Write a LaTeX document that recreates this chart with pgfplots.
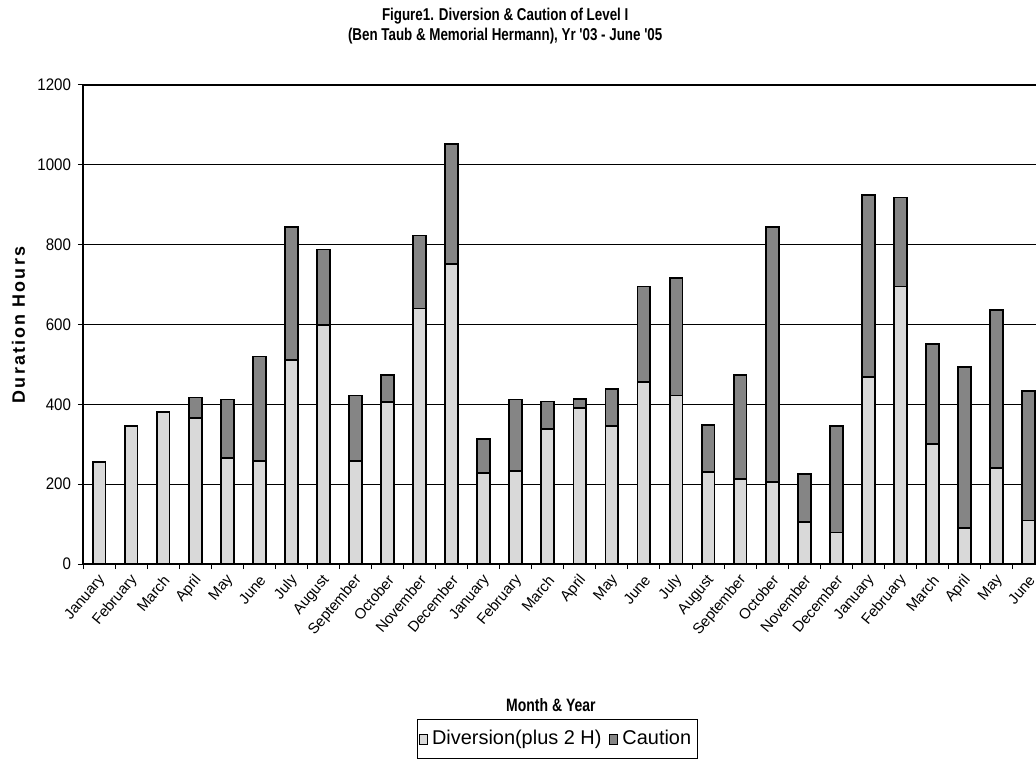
\documentclass[border=0pt]{standalone}
\usepackage{fontspec}
\setmainfont{Liberation Sans}
\newfontfamily\titlefont[FakeStretch=0.78]{Liberation Sans}
\newfontfamily\tickfont[FakeStretch=0.9]{Liberation Sans}
\newfontfamily\labfont[LetterSpace=12]{Liberation Sans}
\usepackage{pgfplots}
\pgfplotsset{compat=1.18}
\usepackage{pgfplotstable}

\pgfplotstableread{
idx div caut
0 255 0
1 345 0
2 381 0
3 365 52
4 265 147
5 259 261
6 512 332
7 598 190
8 259 163
9 405 69
10 640 183
11 751 301
12 228 85
13 232 180
14 338 69
15 391 23
16 346 93
17 456 239
18 422 294
19 230 119
20 213 261
21 205 640
22 105 120
23 79 266
24 469 455
25 695 223
26 301 251
27 90 404
28 240 396
29 109 325
}\datatable

\begin{document}
\begin{tikzpicture}
\useasboundingbox (0,0) rectangle (518bp,381.5bp);
\begin{axis}[
  at={(41.5bp,99.5bp)}, anchor=south west,
  scale only axis, width=476.5bp, height=239.5bp,
  ybar stacked, bar width=0.4,
  xmin=-0.5, xmax=29.23, ymin=0, ymax=1200,
  ytick={0,200,...,1200},
  xtick={0,...,29},
  xticklabels={January,February,March,April,May,June,July,August,September,October,November,December,
               January,February,March,April,May,June,July,August,September,October,November,December,
               January,February,March,April,May,June},
  axis x line*=bottom, axis y line*=left,
  axis line style={-, line width=0.8bp},
  ymajorgrids, grid style={black, line width=0.6bp},
  tick align=outside, major tick length=2.5bp,
  major x tick style={draw=none},
  minor xtick={-0.5,0.5,...,28.5},
  minor x tick style={black, line width=0.5bp},
  minor tick length=2.5bp,
  ytick style={black, line width=0.5bp},
  /pgf/number format/assume math mode=true,
  /pgf/number format/1000 sep={},
  yticklabel style={font=\tickfont\fontsize{8.4}{10}\selectfont},
  xticklabel style={rotate=50, anchor=east, inner sep=1bp, yshift=-4bp, xshift=-1bp,
                    font=\fontsize{7.5}{9}\selectfont},
  title={Figure1. Diversion \& Caution of Level I\\(Ben Taub \& Memorial Hermann), Yr '03 - June '05},
  title style={at={(axis description cs:0.443,1.123)}, anchor=center, align=center, yshift=-6pt,
               font=\titlefont\bfseries\fontsize{8.6}{10.5}\selectfont},
  ylabel={Duration Hours},
  ylabel style={at={(axis description cs:-0.0677,0.499)}, anchor=center,
                font=\labfont\bfseries\fontsize{9}{10}\selectfont},
  xlabel={Month \& Year},
  xlabel style={at={(axis description cs:0.491,-0.294)}, anchor=center,
                font=\titlefont\bfseries\fontsize{9}{10}\selectfont},
  legend style={at={(axis description cs:0.4975,-0.323)}, anchor=north,
                legend columns=2, draw=black, line width=0.6bp,
                font=\fontsize{10}{12}\selectfont, inner xsep=1bp, inner ysep=3.5bp,
                /tikz/every even column/.append style={column sep=2bp}},
  legend image code/.code={\draw[#1, line width=0.5bp] (0bp,-2.5bp) rectangle (4bp,2.5bp);},
]
\addplot[fill=black!15, draw=black, line width=0.9bp] table[x=idx,y=div]{\datatable};
\addplot[fill=black!48, draw=black, line width=0.9bp] table[x=idx,y=caut]{\datatable};
\legend{Diversion(plus 2 H),Caution}
\end{axis}
\end{tikzpicture}
\end{document}
